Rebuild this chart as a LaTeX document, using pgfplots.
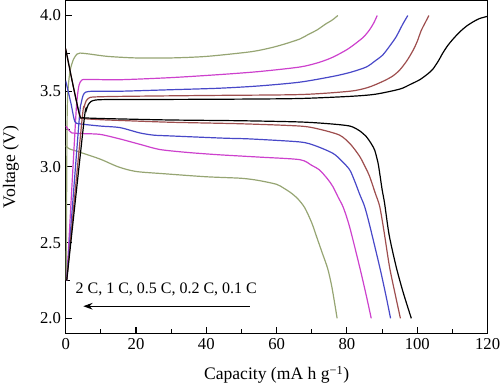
\documentclass[border=0pt]{standalone}
\usepackage{pgfplots}
\pgfplotsset{compat=1.18}
\usepackage{fontspec}
\setmainfont{Liberation Serif}
\usetikzlibrary{arrows.meta}
\definecolor{cbrown}{RGB}{158,78,78}
\definecolor{cblue}{RGB}{72,72,200}
\definecolor{cmag}{RGB}{205,65,205}
\definecolor{cgreen}{RGB}{150,165,115}
\begin{document}
\begin{tikzpicture}
\useasboundingbox (-49.3pt,-38.5pt) rectangle (326pt,250.3pt);
\begin{axis}[
  scale only axis, width=316.7pt, height=250pt,
  xmin=0, xmax=120, ymin=1.9, ymax=4.1,
  xtick={0,20,...,120}, ytick={2.0,2.5,3.0,3.5,4.0},
  minor x tick num=1, minor y tick num=1,
  tick align=inside, xtick pos=left, ytick pos=left,
  major tick length=5pt, minor tick length=3pt,
  axis line style={line width=0.9pt}, every tick/.style={line width=0.8pt, black},
  yticklabel style={/pgf/number format/fixed, /pgf/number format/fixed zerofill, /pgf/number format/precision=1, font=\fontsize{12.5}{14}\selectfont},
  xticklabel style={font=\fontsize{12.5}{14}\selectfont},
  /pgf/number format/assume math mode=true,
  xlabel={Capacity (mA h g\textsuperscript{−1})},
  ylabel={Voltage (V)},
  label style={font=\fontsize{13.2}{15}\selectfont},
  xlabel style={at={(axis description cs:0.5,-0.124)}, anchor=center},
  ylabel style={at={(axis description cs:-0.13,0.5)}, anchor=center, rotate=0},
  every axis plot/.style={line width=0.9pt, smooth, tension=0.45},
]
% green 2C
\addplot[cgreen] coordinates {(0.15,2.25)(0.4,3.3)(0.7,3.52)(1.3,3.64)(2.2,3.71)(3.2,3.745)(4.1,3.752)(7,3.745)(12,3.73)(20,3.72)(30,3.72)(40,3.73)(52.4,3.76)(58,3.785)(62,3.81)(66.6,3.845)(69,3.875)(71.5,3.905)(74,3.945)(75.8,3.97)(77.4,4.0)};
\addplot[cgreen] coordinates {(0,3.14)(1,3.12)(5,3.09)(10,3.05)(15,3.0)(20,2.97)(28,2.955)(40,2.935)(50,2.925)(55,2.91)(60,2.885)(62,2.86)(64,2.83)(66,2.79)(68,2.73)(70,2.63)(71.5,2.53)(73,2.43)(74.5,2.33)(75.6,2.22)(76.5,2.10)(77.2,2.0)};
% magenta 1C
\addplot[cmag] coordinates {(0.3,2.25)(2.8,3.30)(3.3,3.46)(3.8,3.54)(4.5,3.572)(6,3.578)(15.4,3.576)(30,3.59)(43.8,3.61)(55,3.63)(66.6,3.66)(72,3.69)(76,3.725)(80,3.775)(82.7,3.82)(84.8,3.86)(86.4,3.905)(87.6,3.95)(88.6,4.0)};
\addplot[cmag] coordinates {(0,3.27)(1,3.24)(1.7,3.225)(5,3.22)(9.8,3.215)(15.4,3.185)(21,3.15)(26.8,3.115)(35,3.095)(43.8,3.08)(55,3.065)(66.6,3.048)(70,3.01)(72.2,2.98)(74.5,2.92)(76,2.87)(77.5,2.80)(79,2.73)(80.8,2.60)(83.6,2.34)(85.5,2.15)(86.9,2.0)};
% blue 0.5C
\addplot[cblue] coordinates {(0.3,2.25)(3.8,3.30)(4.4,3.42)(5.0,3.475)(5.8,3.495)(8,3.50)(15.4,3.50)(30,3.51)(43.8,3.52)(55,3.535)(66.6,3.56)(76,3.598)(81,3.625)(85.5,3.66)(88,3.70)(90.2,3.74)(92.2,3.80)(94,3.86)(95.8,3.94)(97.3,4.0)};
\addplot[cblue] coordinates {(0,3.57)(1.5,3.42)(2.6,3.30)(4,3.285)(9.8,3.27)(15.4,3.26)(21,3.225)(25,3.21)(29.6,3.205)(45,3.19)(52.4,3.185)(66.6,3.165)(71,3.14)(76,3.09)(78.5,3.04)(80.8,2.98)(82.3,2.90)(83.6,2.82)(85,2.74)(86.4,2.62)(89.3,2.34)(91,2.16)(92.4,2.0)};
% brown 0.2C
\addplot[cbrown] coordinates {(0.3,2.25)(4.6,3.30)(5.2,3.39)(5.8,3.435)(6.6,3.455)(8,3.462)(15.4,3.466)(40,3.472)(66.6,3.478)(80.8,3.50)(86,3.525)(90.2,3.565)(93,3.60)(95,3.64)(97,3.70)(98.8,3.77)(100,3.83)(101.1,3.90)(102.3,3.955)(103.3,4.0)};
\addplot[cbrown] coordinates {(0,3.78)(2,3.55)(4,3.34)(5,3.32)(10,3.312)(15.4,3.307)(30,3.295)(50,3.285)(66.6,3.27)(72,3.25)(77.9,3.21)(81,3.15)(83.6,3.07)(85.2,3.0)(86.4,2.94)(88,2.83)(89.3,2.74)(90.5,2.58)(92.1,2.34)(93.8,2.15)(95.2,2.0)};
% black 0.1C
\addplot[black] coordinates {(0.3,2.25)(5.2,3.30)(5.8,3.37)(6.4,3.41)(7.2,3.432)(8.5,3.442)(12,3.445)(30,3.446)(50,3.448)(66.6,3.452)(80.8,3.466)(88,3.48)(95,3.514)(98,3.545)(100.7,3.576)(103,3.615)(104.4,3.645)(106,3.70)(107.2,3.75)(108.6,3.80)(110,3.84)(112,3.89)(114,3.93)(116,3.96)(117.7,3.98)(120,3.995)};
\addplot[black] coordinates {(0,3.78)(2,3.55)(4,3.34)(5,3.325)(10,3.32)(15.4,3.317)(30,3.31)(50,3.305)(66.6,3.297)(75,3.285)(80.8,3.27)(83.5,3.24)(85.5,3.20)(87,3.15)(87.9,3.11)(88.8,3.03)(89.3,2.96)(90,2.85)(90.7,2.76)(92,2.55)(94,2.34)(96,2.17)(98.3,2.0)};
\node[font=\fontsize{12}{14}\selectfont] at (axis cs:28.6,2.19) {2 C, 1 C, 0.5 C, 0.2 C, 0.1 C};
\draw[-{Stealth[length=7pt,width=5pt]}, line width=0.7pt] (axis cs:52.4,2.08) -- (axis cs:5,2.08);
\end{axis}
\end{tikzpicture}
\end{document}
